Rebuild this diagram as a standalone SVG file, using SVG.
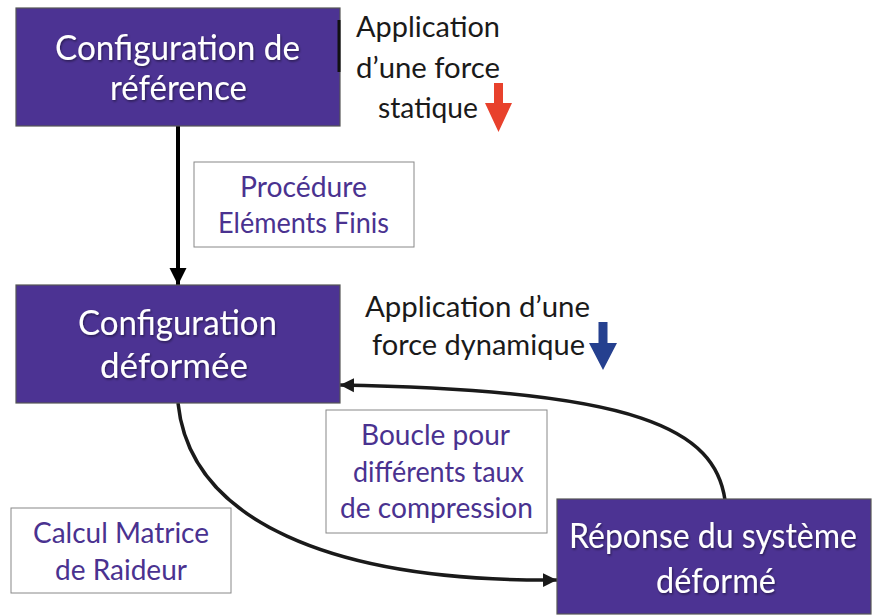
<svg xmlns="http://www.w3.org/2000/svg" width="872" height="615" viewBox="0 0 872 615">
<style>
.box{fill:#4c3393;stroke:#555;stroke-width:1.2}
.lbl{fill:#fff;stroke:#888;stroke-width:1}
.wt{fill:#fff;font-family:Lato,"Open Sans",sans-serif;font-size:35px;text-anchor:start}
.pt{fill:#4a3290;font-family:Lato,"Open Sans",sans-serif;font-size:28px}
.bt{fill:#1a1a1a;font-family:Lato,"Open Sans",sans-serif;font-size:28px}
.conn{fill:none;stroke:#1a1a1a;stroke-width:3.5}
</style>
<defs>
<filter id="sh" x="-5%" y="-20%" width="110%" height="140%">
<feDropShadow dx="1" dy="1.5" stdDeviation="1" flood-color="#000" flood-opacity="0.45"/>
</filter>
<marker id="ah" viewBox="0 0 10 10" refX="10" refY="5" markerUnits="userSpaceOnUse" markerWidth="14" markerHeight="16" orient="auto">
<path d="M0,0 L10,5 L0,10 z" fill="#1a1a1a"/>
</marker>
<marker id="ahv" viewBox="0 0 10 10" refX="10" refY="5" markerUnits="userSpaceOnUse" markerWidth="17" markerHeight="24" orient="auto">
<path d="M0,0 L10,5 L0,10 z" fill="#000"/>
</marker>
</defs>

<g id="connectors">
<line class="conn" x1="178" y1="126" x2="178" y2="285" style="stroke:#000;stroke-width:4" marker-end="url(#ahv)"/>
<path class="conn" d="M178,403 C190,520 330,582 557,580" marker-end="url(#ah)"/>
<path class="conn" d="M725,500 C715,430 640,390 340,385" marker-end="url(#ah)"/>
</g>

<g id="node-reference">
<rect class="box" x="16" y="8" width="324" height="118"/>
<line x1="339" y1="20" x2="339" y2="72" stroke="#111" stroke-width="3"/>
<g filter="url(#sh)">
<text class="wt" x="55" y="60" textLength="245" lengthAdjust="spacingAndGlyphs">Configuration de</text>
<text class="wt" x="110" y="100" textLength="137" lengthAdjust="spacingAndGlyphs">référence</text>
</g>
</g>

<g id="label-static-force">
<text class="bt" x="356" y="37" textLength="144" lengthAdjust="spacingAndGlyphs">Application</text>
<text class="bt" x="356" y="78" textLength="144" lengthAdjust="spacingAndGlyphs">d’une force</text>
<text class="bt" x="378" y="118" textLength="100" lengthAdjust="spacingAndGlyphs">statique</text>
<polygon points="494,83 503,83 503,103 512,103 498.5,132 485,103 494,103" fill="#e8412c"/>
</g>

<g id="label-fem">
<rect class="lbl" x="194" y="162" width="220" height="85"/>
<text class="pt" x="240" y="197" textLength="127" lengthAdjust="spacingAndGlyphs">Procédure</text>
<text class="pt" x="218" y="233" textLength="171" lengthAdjust="spacingAndGlyphs">Eléments Finis</text>
</g>

<g id="node-deformed">
<rect class="box" x="16" y="285" width="324" height="118"/>
<g filter="url(#sh)">
<text class="wt" x="78" y="335" textLength="199" lengthAdjust="spacingAndGlyphs">Configuration</text>
<text class="wt" x="100" y="378" textLength="148" lengthAdjust="spacingAndGlyphs">déformée</text>
</g>
</g>

<g id="label-dynamic-force">
<text class="bt" x="365" y="317" textLength="225" lengthAdjust="spacingAndGlyphs">Application d’une</text>
<text class="bt" x="372" y="355" textLength="213" lengthAdjust="spacingAndGlyphs">force dynamique</text>
<polygon points="598.5,322 607.5,322 607.5,343 617,343 603,370 589,343 598.5,343" fill="#25408f"/>
</g>

<g id="label-loop">
<rect class="lbl" x="326" y="410" width="221" height="123"/>
<text class="pt" x="361" y="445" textLength="149" lengthAdjust="spacingAndGlyphs">Boucle pour</text>
<text class="pt" x="353" y="482" textLength="171" lengthAdjust="spacingAndGlyphs">différents taux</text>
<text class="pt" x="340" y="518" textLength="193" lengthAdjust="spacingAndGlyphs">de compression</text>
</g>

<g id="label-stiffness">
<rect class="lbl" x="11" y="508" width="220" height="85"/>
<text class="pt" x="33" y="543" textLength="176" lengthAdjust="spacingAndGlyphs">Calcul Matrice</text>
<text class="pt" x="55" y="580" textLength="132" lengthAdjust="spacingAndGlyphs">de Raideur</text>
</g>

<g id="node-response">
<rect class="box" x="557" y="499" width="314" height="115"/>
<g filter="url(#sh)">
<text class="wt" x="569" y="548" textLength="288" lengthAdjust="spacingAndGlyphs">Réponse du système</text>
<text class="wt" x="656" y="593" textLength="120" lengthAdjust="spacingAndGlyphs">déformé</text>
</g>
</g>
</svg>
